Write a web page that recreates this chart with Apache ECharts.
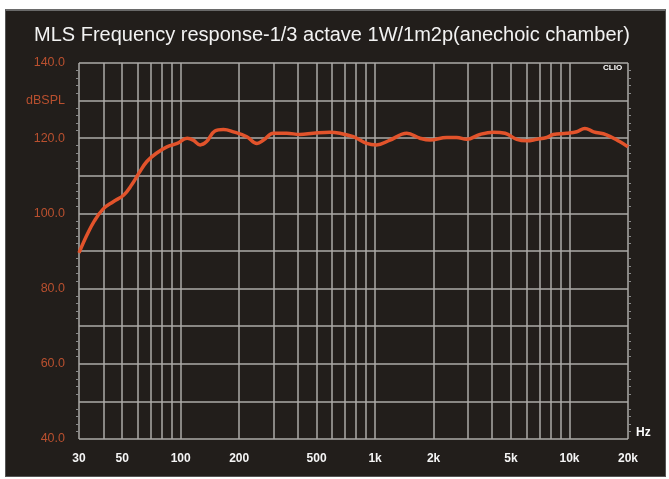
<!DOCTYPE html>
<html>
<head>
<meta charset="utf-8">
<script src="https://cdn.jsdelivr.net/npm/echarts@6/dist/echarts.min.js"></script>
<style>
html,body{margin:0;padding:0;background:#ffffff;}
#frame{position:absolute;left:5px;top:9px;width:659px;height:465px;background:#221e1b;border:1px solid #555;border-top:2px solid #6a6a6a;}
#chart{position:absolute;left:0;top:0;width:669px;height:479px;}
</style>
</head>
<body>
<div id="frame"></div>
<div id="chart"></div>
<script>
// Frequency (Hz) and SPL (dB)
const freqs = [30, 33, 36, 40, 45, 51, 56, 61, 67, 75, 85, 96, 108, 116, 126, 136, 150, 166, 187, 219, 247, 267, 300, 351, 411, 481, 586, 660, 773, 906, 1017, 1194, 1456, 1703, 1917, 2335, 2629, 2960, 3464, 4059, 4664, 5356, 6027, 6789, 7638, 8260, 9684, 10900, 12000, 13300, 15500, 18100, 20000];
const spl   = [89.5, 94.3, 98.0, 101.2, 103.1, 104.9, 107.6, 110.7, 113.8, 116.0, 117.7, 118.6, 120.0, 119.5, 118.2, 119.1, 121.9, 122.3, 121.7, 120.4, 118.6, 119.5, 121.3, 121.3, 121.0, 121.3, 121.6, 121.3, 120.4, 118.6, 118.2, 119.5, 121.3, 120.0, 119.5, 120.2, 120.2, 119.7, 121.0, 121.6, 121.3, 119.7, 119.3, 119.7, 120.2, 121.0, 121.3, 121.7, 122.6, 121.7, 120.9, 119.1, 117.7];
const xLabelValues = [30, 50, 100, 200, 500, 1000, 2000, 5000, 10000, 20000];
const xGridValues = [30, 40, 50, 60, 70, 80, 90, 100, 200, 300, 400, 500, 600, 700, 800, 900, 1000, 2000, 3000, 4000, 5000, 6000, 7000, 8000, 9000, 10000, 20000];
const yTickLabels = {140: '140.0', 130: 'dBSPL', 120: '120.0', 100: '100.0', 80: '80.0', 60: '60.0', 40: '40.0'};
const titleText = 'MLS Frequency response-1/3 actave 1W/1m2p(anechoic chamber)';

const chart = echarts.init(document.getElementById('chart'), null, {renderer: 'canvas'});
const gridColor = '#adaba8';
const font = 'Liberation Sans, Arial, sans-serif';
chart.setOption({
  backgroundColor: 'transparent',
  animation: false,
  title: {
    text: titleText,
    left: 29, top: 20,
    textStyle: {color: '#f2f2f2', fontSize: 20, fontWeight: 'normal', fontFamily: font}
  },
  graphic: [{
    type: 'text', left: 603, top: 64,
    style: {text: 'CLIO', fill: '#ffffff', font: 'bold 8px ' + font}
  }],
  grid: {left: 79, right: 41, top: 63, bottom: 40},
  xAxis: {
    type: 'log', logBase: 10, min: 30, max: 20000,
    name: 'Hz', nameLocation: 'end', nameGap: 8,
    nameTextStyle: {color: '#ffffff', fontSize: 12, fontWeight: 'bold', fontFamily: font, verticalAlign: 'bottom'},
    axisLine: {show: false},
    axisTick: {show: false, customValues: xGridValues},
    axisLabel: {
      customValues: xLabelValues,
      color: '#f5f5f5', fontSize: 12, fontWeight: 'bold', fontFamily: font, margin: 14,
      formatter: v => v >= 1000 ? (v / 1000) + 'k' : String(v)
    },
    splitLine: {show: true, lineStyle: {color: gridColor, width: 1.5}}
  },
  yAxis: [{
    type: 'value', min: 40, max: 140, interval: 10,
    axisLine: {show: false},
    axisTick: {show: false},
    minorTick: {show: true, splitNumber: 5, length: 3, lineStyle: {color: '#8a8a8a', width: 1}},
    axisLabel: {
      color: '#b9502f', fontSize: 12.5, fontFamily: font, margin: 14,
      formatter: v => yTickLabels[v] !== undefined ? yTickLabels[v] : ''
    },
    splitLine: {show: true, lineStyle: {color: gridColor, width: 1.5}}
  }, {
    type: 'value', min: 40, max: 140, interval: 10, position: 'right',
    axisLine: {show: false}, axisTick: {show: false},
    minorTick: {show: true, splitNumber: 5, length: 3, lineStyle: {color: '#8a8a8a', width: 1}},
    axisLabel: {show: false}, splitLine: {show: false}
  }],
  series: [{
    type: 'line',
    data: freqs.map((f, i) => [f, spl[i]]),
    smooth: 0.4,
    symbol: 'none',
    lineStyle: {color: '#e2532b', width: 3.5},
    z: 5
  }]
});
</script>
</body>
</html>
